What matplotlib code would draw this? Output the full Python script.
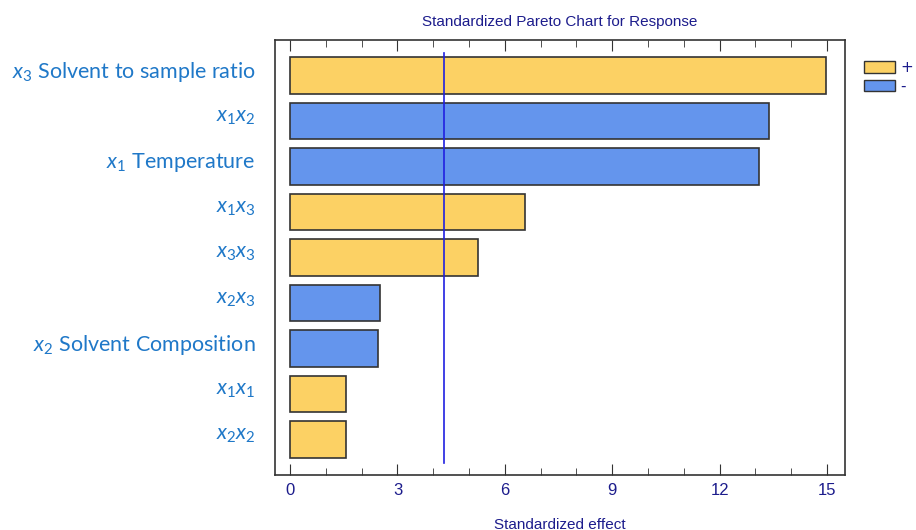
import matplotlib
matplotlib.use("Agg")
import matplotlib.pyplot as plt
import matplotlib.transforms as mtransforms
from matplotlib.patches import Patch
from matplotlib.ticker import MultipleLocator

# Effects, top to bottom as shown
labels = [
    r"$x_3$ Solvent to sample ratio",
    r"$x_1x_2$",
    r"$x_1$ Temperature",
    r"$x_1x_3$",
    r"$x_3x_3$",
    r"$x_2x_3$",
    r"$x_2$ Solvent Composition",
    r"$x_1x_1$",
    r"$x_2x_2$",
]
effects = [14.98, 13.38, 13.10, 6.56, 5.25, 2.51, 2.46, 1.56, 1.56]
signs = ["+", "-", "-", "+", "+", "-", "-", "+", "+"]
critical = 4.31

pos_color = "#FCD164"
neg_color = "#6495ED"
navy = "#1C1C8C"
label_blue = "#1F78C8"

plt.rcParams["mathtext.fontset"] = "custom"
plt.rcParams["mathtext.rm"] = "Lato"
plt.rcParams["mathtext.it"] = "Lato:italic"

fig = plt.figure(figsize=(9.16, 5.30), dpi=100)
ax = fig.add_axes([275 / 916, 1 - 475 / 530, 570 / 916, 435 / 530])

ypos = list(range(len(effects)))
colors = [pos_color if s == "+" else neg_color for s in signs]
ax.barh(ypos, effects, height=0.8, color=colors, edgecolor="#333333", linewidth=1.2, zorder=2)
ax.axvline(critical, ymin=0.028, ymax=0.97, color="#2020E0", linewidth=1.2, zorder=3)

ax.set_xlim(-0.42, 15.5)
ax.set_ylim(len(effects) - 1 + 0.78, -0.78)
ax.set_yticks(ypos)
ax.set_yticklabels(labels, fontsize=15.5, color=label_blue, family="Lato")
ax.tick_params(axis="y", length=0, pad=14)
# labels in the original sit a little above the bar centres
shift = mtransforms.ScaledTranslation(0, 5 / 72, fig.dpi_scale_trans)
for lbl in ax.get_yticklabels():
    lbl.set_transform(lbl.get_transform() + shift)

ax.xaxis.set_major_locator(MultipleLocator(3))
ax.xaxis.set_minor_locator(MultipleLocator(1))
ax.tick_params(axis="x", which="both", direction="in", top=True, colors="#333333",
               labelcolor=navy, labelsize=12, pad=6)
ax.tick_params(axis="x", which="major", length=8)
ax.tick_params(axis="x", which="minor", length=5)
for lbl in ax.get_xticklabels():
    lbl.set_family("Liberation Sans")

for sp in ax.spines.values():
    sp.set_color("#333333")
    sp.set_linewidth(1.2)

ax.set_xlabel("Standardized effect", color=navy, fontsize=11, family="Liberation Sans", labelpad=14)
ax.set_title("Standardized Pareto Chart for Response", color=navy, fontsize=11,
             family="Liberation Sans", pad=10)

handles = [Patch(facecolor=pos_color, edgecolor="#333333", label="+"),
           Patch(facecolor=neg_color, edgecolor="#333333", label="-")]
fig.legend(handles=handles, loc="upper left", bbox_to_anchor=(864 / 916, 1 - 60 / 530),
           frameon=False, fontsize=11, handlelength=2.0, handleheight=0.8,
           handletextpad=0.4, labelspacing=0.25, borderpad=0, borderaxespad=0,
           labelcolor=navy)

fig.savefig("out.png", dpi=100)
